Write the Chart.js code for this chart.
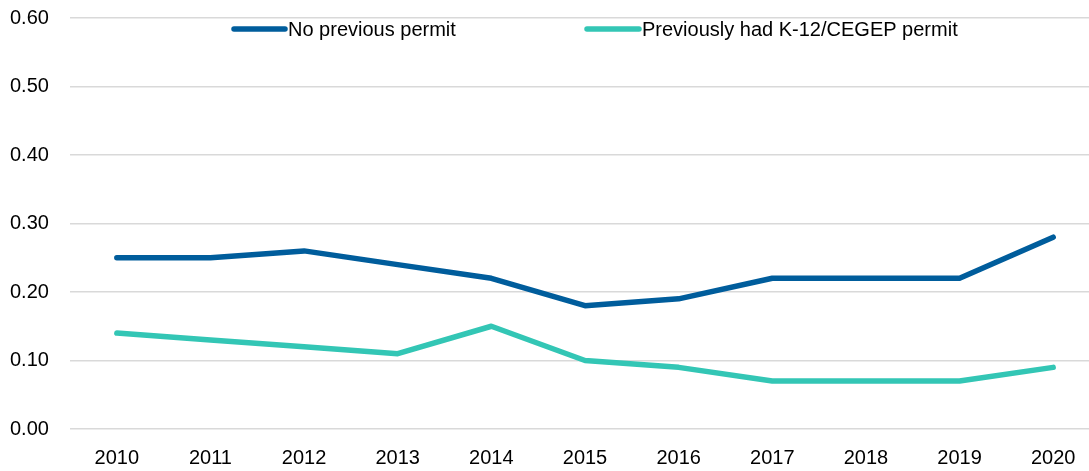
<!DOCTYPE html>
<html>
<head>
<meta charset="utf-8">
<script src="https://cdn.jsdelivr.net/npm/chart.js@4/dist/chart.umd.min.js"></script>
<style>
  html, body { margin: 0; padding: 0; background: #fff; overflow: hidden; }
  #wrap { width: 1100px; height: 471px; position: relative; }
</style>
</head>
<body>
<div id="wrap"><canvas id="c"></canvas></div>
<script>
const categories = ['2010','2011','2012','2013','2014','2015','2016','2017','2018','2019','2020'];
const noPrevious = [0.25, 0.25, 0.26, 0.24, 0.22, 0.18, 0.19, 0.22, 0.22, 0.22, 0.28];
const previousK12 = [0.14, 0.13, 0.12, 0.11, 0.15, 0.10, 0.09, 0.07, 0.07, 0.07, 0.09];
const seriesNames = ['No previous permit', 'Previously had K-12/CEGEP permit'];
const yTicks = [0, 0.1, 0.2, 0.3, 0.4, 0.5, 0.6];

const FONT = '"Liberation Sans", Arial, sans-serif';
const BLUE = '#005D9C';
const TEAL = '#33C6B5';

const legendPlugin = {
  id: 'inlineLegend',
  afterDraw(chart) {
    const ctx = chart.ctx;
    const y = 29;
    const items = [
      { x: 234, len: 51, color: BLUE, label: seriesNames[0] },
      { x: 587, len: 52, color: TEAL, label: seriesNames[1] }
    ];
    ctx.save();
    ctx.font = '20px ' + FONT;
    ctx.textBaseline = 'middle';
    ctx.fillStyle = '#000';
    items.forEach(it => {
      ctx.strokeStyle = it.color;
      ctx.lineWidth = 5.5;
      ctx.lineCap = 'round';
      ctx.beginPath();
      ctx.moveTo(it.x, y);
      ctx.lineTo(it.x + it.len, y);
      ctx.stroke();
      ctx.fillText(it.label, it.x + it.len + 3, y + 1);
    });
    ctx.restore();
  }
};

new Chart(document.getElementById('c'), {
  type: 'line',
  data: {
    labels: categories,
    datasets: [
      { label: seriesNames[0], data: noPrevious, borderColor: BLUE, backgroundColor: BLUE,
        borderWidth: 5.5, borderCapStyle: 'round', borderJoinStyle: 'round', pointRadius: 0, tension: 0 },
      { label: seriesNames[1], data: previousK12, borderColor: TEAL, backgroundColor: TEAL,
        borderWidth: 5.5, borderCapStyle: 'round', borderJoinStyle: 'round', pointRadius: 0, tension: 0 }
    ]
  },
  options: {
    responsive: true,
    maintainAspectRatio: false,
    animation: false,
    devicePixelRatio: 1,
    layout: { padding: { top: 0, right: 0, left: 10, bottom: 0 } },
    plugins: { legend: { display: false }, tooltip: { enabled: false } },
    scales: {
      x: {
        offset: true,
        grid: { display: false, drawTicks: false },
        border: { display: false },
        ticks: { color: '#000', font: { family: FONT, size: 20 }, padding: 17, maxRotation: 0 },
        afterFit(s) { s.height = 42; }
      },
      y: {
        min: 0, max: 0.6,
        afterBuildTicks(s) { s.ticks = yTicks.map(v => ({ value: v })); },
        grid: { color: '#D9D9D9', lineWidth: 1.5, drawTicks: false },
        border: { display: false },
        ticks: { color: '#000', font: { family: FONT, size: 20 }, padding: 6, crossAlign: 'far',
          callback: v => Number(v).toFixed(2) },
        afterFit(s) { s.width = 60; }
      }
    }
  },
  plugins: [legendPlugin]
});
</script>
</body>
</html>
